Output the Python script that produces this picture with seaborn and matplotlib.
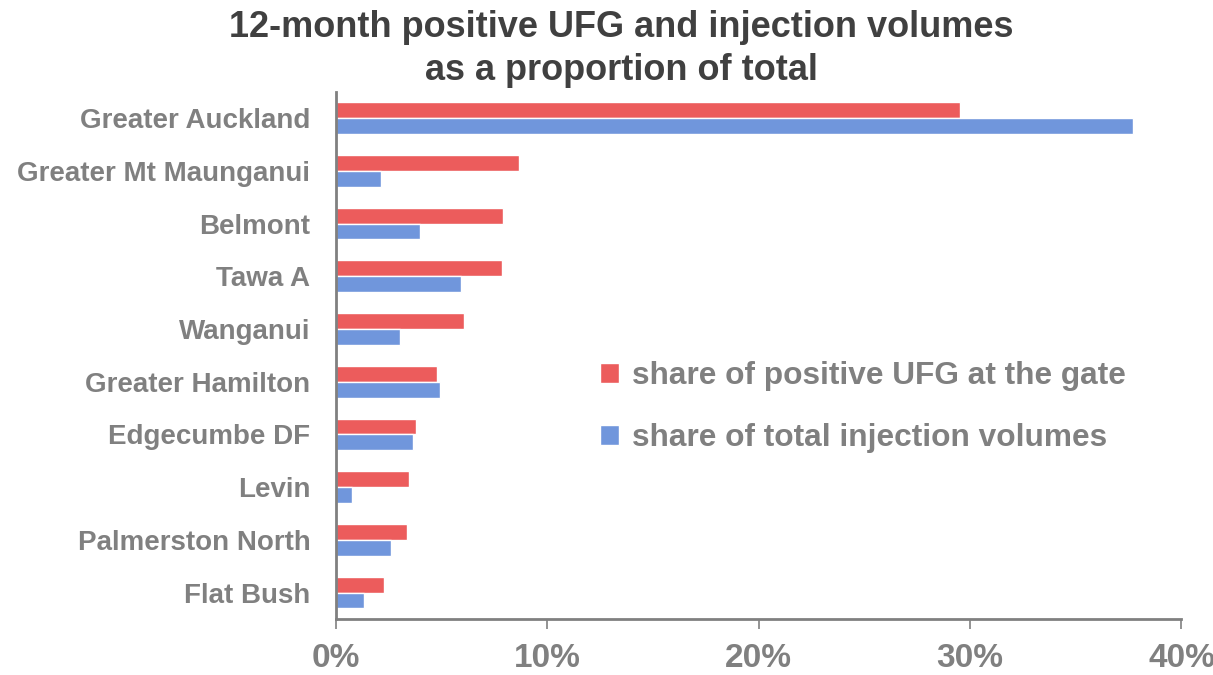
import matplotlib
matplotlib.use("Agg")
import matplotlib.pyplot as plt
import seaborn as sns
import pandas as pd
from matplotlib.ticker import FuncFormatter

regions = ["Greater Auckland", "Greater Mt Maunganui", "Belmont", "Tawa A", "Wanganui",
           "Greater Hamilton", "Edgecumbe DF", "Levin", "Palmerston North", "Flat Bush"]
ufg_share = [29.5, 8.67, 7.88, 7.85, 6.04, 4.79, 3.78, 3.47, 3.37, 2.27]
injection_share = [37.7, 2.13, 3.97, 5.91, 3.03, 4.92, 3.66, 0.77, 2.59, 1.31]
series_names = ["share of positive UFG at the gate", "share of total injection volumes"]
x_ticks = [0, 10, 20, 30, 40]

df = pd.DataFrame({
    "region": regions * 2,
    "value": ufg_share + injection_share,
    "series": [series_names[0]] * len(regions) + [series_names[1]] * len(regions),
})

sns.set_theme(style="white")
plt.rcParams['font.family'] = ['Liberation Sans', 'DejaVu Sans']
GRAY = "#808080"
RED = "#EC5C5C"
BLUE = "#7096DC"

fig = plt.figure(figsize=(12.13, 6.75), dpi=100)
ax = fig.add_axes([0.277, 0.083, 0.697, 0.781])
sns.barplot(data=df, x="value", y="region", hue="series", order=regions,
            hue_order=series_names, palette=[RED, BLUE], width=0.6, gap=0,
            saturation=1, ax=ax, orient="h")

ax.set_xlim(0, 40)
ax.set_xticks(x_ticks)
ax.xaxis.set_major_formatter(FuncFormatter(lambda v, p: f"{v:.0f}%"))
ax.set_xlabel("")
ax.set_ylabel("")
for s in ["top", "right"]:
    ax.spines[s].set_visible(False)
for s in ["left", "bottom"]:
    ax.spines[s].set_color(GRAY)
    ax.spines[s].set_linewidth(2)
ax.tick_params(axis="x", bottom=True, length=7, width=1.2, color=GRAY,
               labelsize=24, labelcolor=GRAY, pad=10)
ax.tick_params(axis="y", left=False, labelsize=20, labelcolor=GRAY, pad=12.5)
for lbl in ax.get_xticklabels() + ax.get_yticklabels():
    lbl.set_fontweight("bold")

leg = ax.legend(loc="upper left", bbox_to_anchor=(0.279, 0.543), frameon=False,
                handlelength=0.6, handleheight=0.6, handletextpad=0.4,
                labelspacing=1.0, prop={"size": 22.8, "weight": "bold"})
for t in leg.get_texts():
    t.set_color(GRAY)

fig.suptitle("12-month positive UFG and injection volumes\nas a proportion of total",
             x=0.512, y=0.985, fontsize=26, fontweight="bold", color="#404040",
             linespacing=1.3)

fig.savefig("out.png", dpi=100)
